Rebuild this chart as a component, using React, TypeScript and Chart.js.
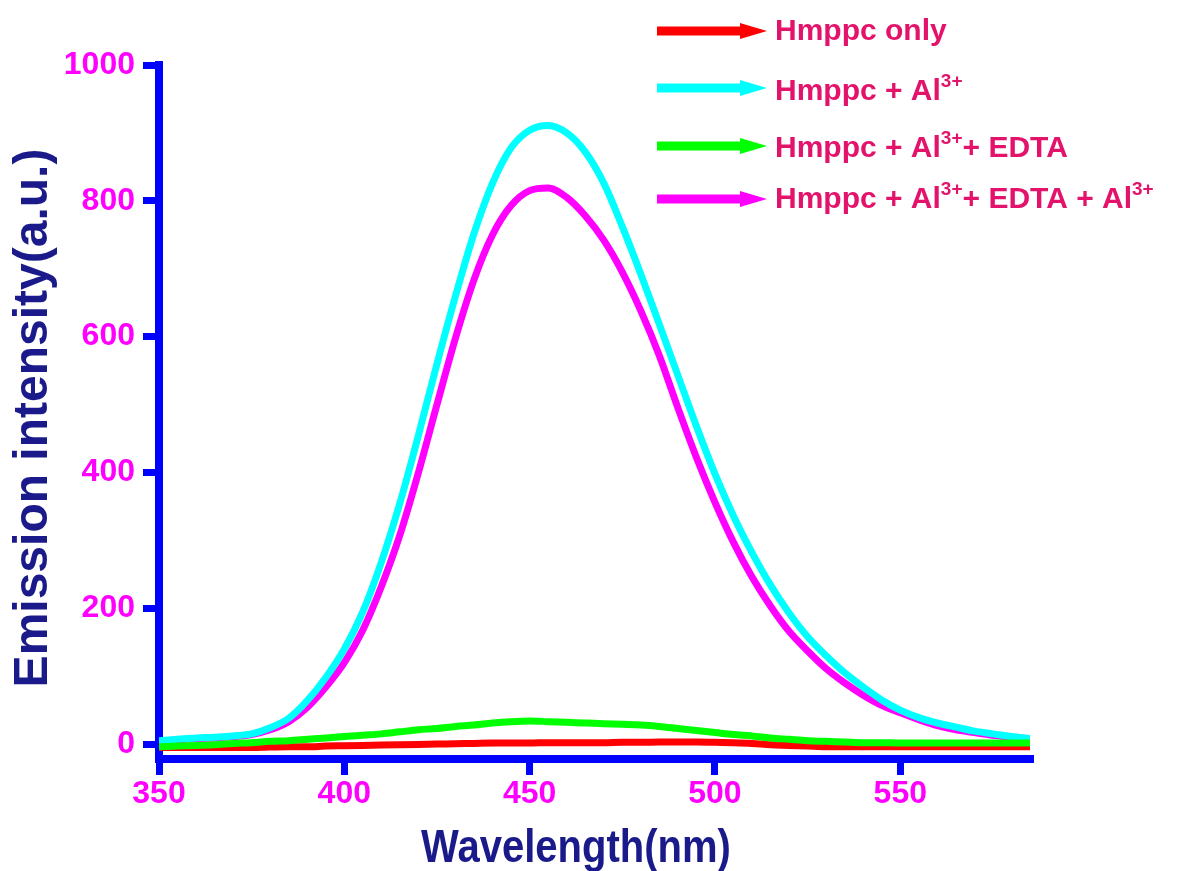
import React, { useEffect, useRef } from 'react';
import { Chart, registerables } from 'chart.js';

Chart.register(...registerables);

// ---------- data ----------
const WAVELENGTHS = [
  350, 355, 360, 365, 370, 375, 380, 385, 390, 395, 400, 405, 410, 415, 420, 425,
  430, 435, 440, 445, 450, 455, 460, 465, 470, 475, 480, 485, 490, 495, 500, 505,
  510, 515, 520, 525, 530, 535, 540, 545, 550, 555, 560, 565, 570, 575, 580, 585,
];

const HMPPC_ONLY = [
  -5, -5, -5, -5, -5, -5, -4.5, -4, -4, -3, -2.5, -2, -1.5, -1, -0.5, 0,
  0.5, 1, 1.5, 1.5, 1.5, 2, 2, 2, 2, 2.5, 2.5, 3, 3, 3, 2.5, 2,
  1, -1, -2, -3, -4, -4, -4, -4, -4, -4, -4, -4, -4, -4, -4, -4,
];

const HMPPC_AL = [
  5, 7, 9, 10, 12, 15, 24, 38, 64, 98, 140, 195, 268, 355, 455, 560,
  660, 752, 826, 878, 904, 911, 900, 872, 826, 762, 692, 618, 543, 468, 398, 336,
  282, 234, 193, 158, 130, 105, 84, 65, 50, 39, 31, 25, 19, 15, 11, 8,
];

const HMPPC_AL_EDTA = [
  -4, -3, -2, -1, 1, 2, 4, 5, 7, 9, 11, 13, 15, 18, 21, 23,
  26, 28, 31, 33, 34, 33, 32, 31, 30, 29, 28, 26, 23, 20, 17, 14,
  12, 9, 7, 5, 4, 3, 2, 2, 1.5, 1.5, 1.5, 1.5, 1.5, 1.5, 1.5, 1.5,
];

const HMPPC_AL_EDTA_AL = [
  4, 6, 8, 9, 11, 14, 21, 33, 54, 84, 120, 168, 232, 308, 400, 500,
  598, 684, 750, 793, 815, 819, 805, 778, 742, 695, 638, 572, 495, 422, 356, 297,
  246, 203, 166, 137, 111, 90, 72, 57, 46, 36, 27, 21, 17, 13, 10, 8,
];

const SERIES_NAMES = [
  'Hmppc only',
  'Hmppc + Al³⁺',
  'Hmppc + Al³⁺+ EDTA',
  'Hmppc + Al³⁺+ EDTA + Al³⁺',
];
const SERIES_COLORS = ['#ff0000', '#00ffff', '#00ff00', '#ff00ff'];
const SERIES_ORDER = [3, 1, 0, 2];

const X_TICKS = [350, 400, 450, 500, 550];
const Y_TICKS = [0, 200, 400, 600, 800, 1000];
const X_TITLE = 'Wavelength(nm)';
const Y_TITLE = 'Emission intensity(a.u.)';

// ---------- styles ----------
const FONT_FAMILY = 'Arial, "Liberation Sans", Helvetica, sans-serif';
const AXIS_COLOR = '#0000ff';
const TICK_COLOR = '#ff00ff';
const TITLE_COLOR = '#1a1a8a';
const LEGEND_TEXT_COLOR = '#e3126b';

const overlayPlugin = {
  id: 'overlay',
  afterDraw(chart: any) {
    const ctx: CanvasRenderingContext2D = chart.ctx;
    // Y title
    ctx.save();
    ctx.fillStyle = TITLE_COLOR;
    ctx.font = `bold 48px ${FONT_FAMILY}`;
    ctx.textAlign = 'center';
    ctx.textBaseline = 'alphabetic';
    ctx.translate(47, 418);
    ctx.rotate(-Math.PI / 2);
    ctx.fillText(Y_TITLE, 0, 0);
    ctx.restore();

    // X title
    ctx.save();
    ctx.fillStyle = TITLE_COLOR;
    ctx.font = `bold 46px ${FONT_FAMILY}`;
    ctx.textAlign = 'center';
    ctx.textBaseline = 'alphabetic';
    ctx.translate(576, 862);
    ctx.scale(0.87, 1);
    ctx.fillText(X_TITLE, 0, 0);
    ctx.restore();

    // Legend
    const arrowY = [31, 88, 146, 199];
    const baseY = [40, 100, 157, 208];
    const x0 = 657;
    const shaftEnd = 742;
    const tip = 767;
    const textX = 775;
    ctx.save();
    SERIES_NAMES.forEach((name, i) => {
      const cy = arrowY[i];
      ctx.fillStyle = SERIES_COLORS[i];
      ctx.fillRect(x0, cy - 4.5, shaftEnd - x0, 9);
      ctx.beginPath();
      ctx.moveTo(shaftEnd - 2, cy - 8);
      ctx.lineTo(tip, cy);
      ctx.lineTo(shaftEnd - 2, cy + 8);
      ctx.closePath();
      ctx.fill();

      ctx.fillStyle = LEGEND_TEXT_COLOR;
      ctx.textAlign = 'left';
      ctx.textBaseline = 'alphabetic';
      const parts = name.split('³⁺');
      let cx = textX;
      parts.forEach((p, k) => {
        ctx.font = `bold 30px ${FONT_FAMILY}`;
        ctx.fillText(p, cx, baseY[i]);
        cx += ctx.measureText(p).width;
        if (k < parts.length - 1) {
          ctx.font = `bold 19px ${FONT_FAMILY}`;
          ctx.fillText('3+', cx, baseY[i] - 13);
          cx += ctx.measureText('3+').width;
        }
      });
    });
    ctx.restore();
  },
};

export default function App() {
  const canvasRef = useRef<HTMLCanvasElement | null>(null);

  useEffect(() => {
    if (!canvasRef.current) return;
    const seriesValues = [HMPPC_ONLY, HMPPC_AL, HMPPC_AL_EDTA, HMPPC_AL_EDTA_AL];
    const chart = new Chart(canvasRef.current, {
      type: 'line',
      data: {
        datasets: SERIES_NAMES.map((name, i) => ({
          label: name,
          data: WAVELENGTHS.map((x, j) => ({ x, y: seriesValues[i][j] })),
          borderColor: SERIES_COLORS[i],
          backgroundColor: SERIES_COLORS[i],
          borderWidth: 7,
          pointRadius: 0,
          cubicInterpolationMode: 'monotone',
          fill: false,
          order: SERIES_ORDER[i],
        })),
      },
      options: {
        animation: false,
        responsive: false,
        layout: { padding: { left: 0, top: 65, right: 147, bottom: 0 } },
        plugins: {
          legend: { display: false },
          tooltip: { enabled: false },
          title: { display: false },
        },
        scales: {
          x: {
            type: 'linear',
            min: 350,
            max: 585,
            afterBuildTicks: (s: any) => {
              s.ticks = X_TICKS.map((value) => ({ value }));
            },
            afterFit: (s: any) => {
              s.height = 112;
            },
            grid: {
              display: true,
              drawOnChartArea: false,
              drawTicks: true,
              tickLength: 16,
              color: AXIS_COLOR,
              lineWidth: 7,
              tickWidth: 7,
            },
            border: { display: true, color: AXIS_COLOR, width: 8 },
            ticks: {
              color: TICK_COLOR,
              padding: 0,
              maxRotation: 0,
              callback: (v: any) => String(v),
              font: { size: 32, weight: 'bold', family: FONT_FAMILY },
            },
          },
          y: {
            type: 'linear',
            min: -22,
            max: 1000,
            afterBuildTicks: (s: any) => {
              s.ticks = Y_TICKS.map((value) => ({ value }));
            },
            afterFit: (s: any) => {
              s.width = 159;
            },
            grid: {
              display: true,
              drawOnChartArea: false,
              drawTicks: true,
              tickLength: 16,
              color: AXIS_COLOR,
              lineWidth: 7,
              tickWidth: 7,
            },
            border: { display: true, color: AXIS_COLOR, width: 8 },
            ticks: {
              color: TICK_COLOR,
              padding: 8,
              callback: (v: any) => String(v),
              font: { size: 32, weight: 'bold', family: FONT_FAMILY },
            },
          },
        },
      },
      plugins: [overlayPlugin],
    } as any);
    return () => chart.destroy();
  }, []);

  return (
    <div style={{ position: 'absolute', left: 0, top: 0, width: 1177, height: 871, background: '#fff' }}>
      <canvas ref={canvasRef} width={1177} height={871} />
    </div>
  );
}
